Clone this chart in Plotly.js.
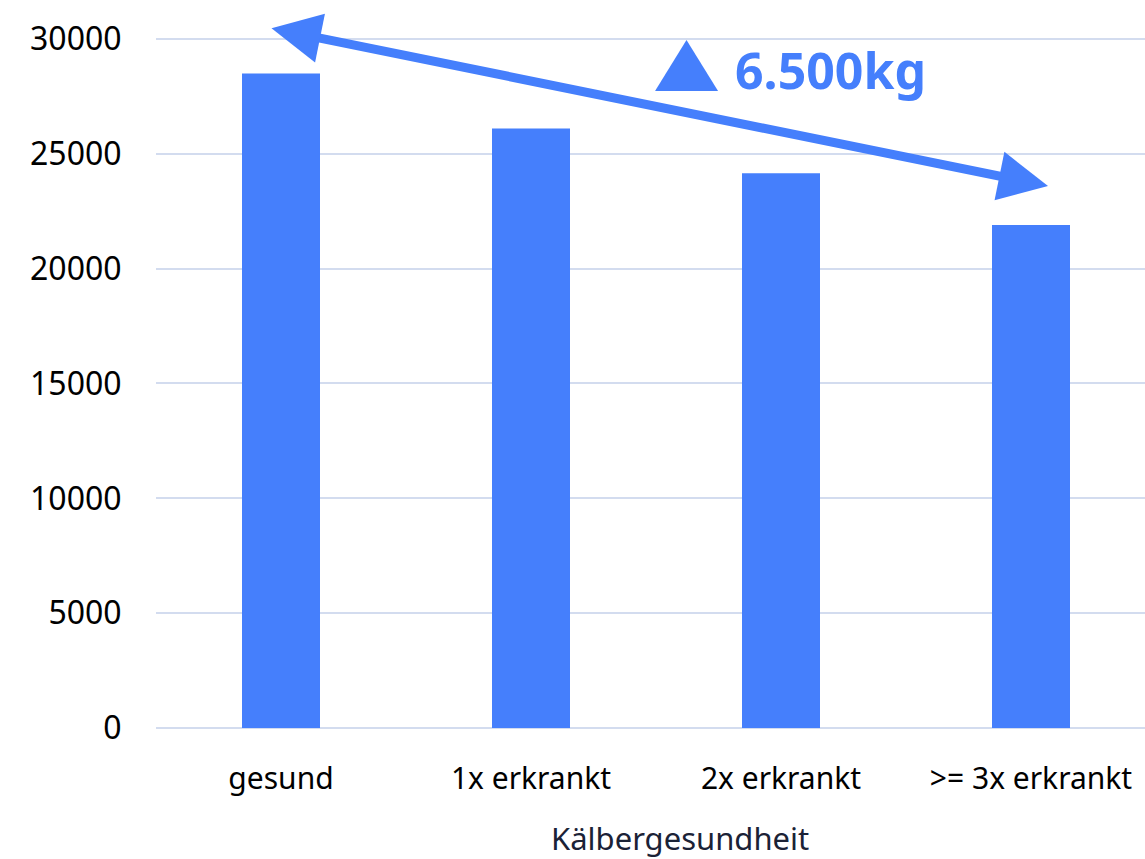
<!DOCTYPE html>
<html><head><meta charset="utf-8">
<script src="https://cdn.plot.ly/plotly-3.0.1.min.js"></script>
<style>html,body{margin:0;padding:0;background:#fff}#chart{width:1145px;height:859px}</style>
</head><body><div id="chart"></div>
<script>
const categories = ["gesund", "1x erkrankt", "2x erkrankt", ">= 3x erkrankt"];
const values = [28500, 26100, 24150, 21900];
const yTicks = [0, 5000, 10000, 15000, 20000, 25000, 30000];
const diffLabel = "6.500kg";
const xTitle = "Kälbergesundheit";

const trace = {
  type: "bar", x: categories, y: values,
  marker: {color: "#457ffc"}, hoverinfo: "none"
};
const layout = {
  width: 1145, height: 859,
  margin: {l: 156, r: 0, t: 16, b: 131},
  paper_bgcolor: "#fff", plot_bgcolor: "#fff",
  bargap: 0.688,
  showlegend: false,
  font: {family: "Noto Sans, sans-serif", color: "#000"},
  xaxis: {
    type: "category", range: [-0.5, 3.456],
    tickfont: {size: 30, color: "#000"},
    ticks: "outside", ticklen: 24, tickcolor: "rgba(0,0,0,0)",
    showgrid: false, zeroline: false, showline: false
  },
  yaxis: {
    range: [0, 31000], tickvals: yTicks, ticktext: yTicks.map(String),
    tickfont: {size: 32, color: "#000"},
    ticks: "outside", ticklen: 27, tickcolor: "rgba(0,0,0,0)",
    gridcolor: "#d3dcef", gridwidth: 2,
    zeroline: true, zerolinecolor: "#d3dcef", zerolinewidth: 2, showline: false
  },
  annotations: [
    {x: 3.068, y: 23600, ax: -0.044, ay: 30479, xref: "x", yref: "y", axref: "x", ayref: "y",
     text: "", showarrow: true, arrowhead: 2, startarrowhead: 2, arrowside: "end+start",
     arrowwidth: 9, arrowsize: 1.1, startarrowsize: 1.1, arrowcolor: "#457ffc"},
    {x: 2.196, y: 28650, xref: "x", yref: "y", text: "<b>" + diffLabel + "</b>", showarrow: false,
     font: {size: 50, color: "#457ffc", family: "Noto Sans, sans-serif"}},
    {x: 0.53, y: -0.1545, xref: "paper", yref: "paper", yanchor: "middle", text: xTitle, showarrow: false,
     font: {size: 31, color: "#1b2236", family: "Noto Sans, sans-serif"}}
  ],
  shapes: [
    {type: "path", xref: "paper", yref: "paper",
     path: "M0.5046,0.8947 L0.5683,0.8947 L0.5364,0.9663 Z",
     fillcolor: "#457ffc", line: {width: 0}}
  ]
};
Plotly.newPlot("chart", [trace], layout, {displayModeBar: false, staticPlot: true});
</script></body></html>
